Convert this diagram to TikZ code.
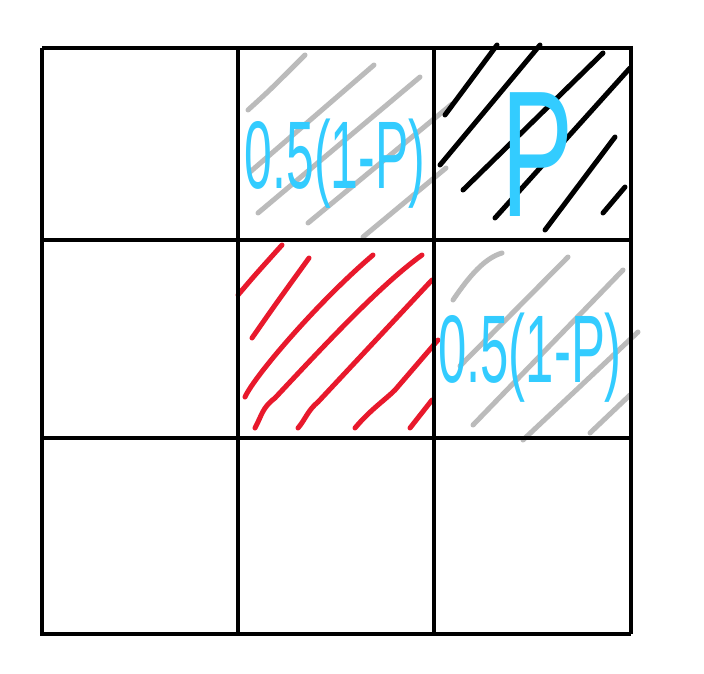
\documentclass[tikz,border=0pt]{standalone}
\usepackage{fontspec}
\setmainfont{Liberation Sans}
\definecolor{hgray}{HTML}{BBBBBB}
\definecolor{hred}{HTML}{E8192C}
\definecolor{hblue}{HTML}{33CCFF}
\begin{document}
\begin{tikzpicture}[x=1pt,y=-1pt,
  gridline/.style={line width=4.5pt,black},
  hatchgray/.style={line width=5pt,hgray,line cap=round},
  hatchblack/.style={line width=5pt,black,line cap=round},
  hatchred/.style={line width=5pt,hred,line cap=round},
  lbl/.style={text=hblue,inner sep=0pt,font=\fontsize{96}{96}\selectfont}]
\useasboundingbox[fill=white] (0,0) rectangle (704,674);
% hatching: top-middle cell (gray)
\draw[hatchgray] (248,110) .. controls (270,90) .. (305,55);
\draw[hatchgray] (250,172) -- (374,65);
\draw[hatchgray] (258,213) -- (420,77);
\draw[hatchgray] (308,223) -- (452,104);
\draw[hatchgray] (363,237) -- (446,168);
% hatching: top-right cell (black)
\draw[hatchblack] (445,115) -- (497,45);
\draw[hatchblack] (440,165) -- (540,45);
\draw[hatchblack] (463,190) -- (603,53);
\draw[hatchblack] (495,218) -- (630,68);
\draw[hatchblack] (545,230) -- (615,137);
\draw[hatchblack] (603,213) -- (625,187);
% hatching: centre cell (red)
\draw[hatchred] (238,295) .. controls (255,275) .. (282,245);
\draw[hatchred] (252,338) .. controls (275,305) .. (309,258);
\draw[hatchred] (245,397) .. controls (255,375) and (320,300) .. (373,255);
\draw[hatchred] (255,428) .. controls (262,415) and (262,408) .. (275,398) .. controls (320,350) and (380,285) .. (422,255);
\draw[hatchred] (298,428) .. controls (305,420) and (308,410) .. (318,402) -- (432,280);
\draw[hatchred] (355,428) .. controls (370,410) and (385,400) .. (395,390) -- (438,340);
\draw[hatchred] (410,428) -- (432,400);
% hatching: bottom-right cell (gray)
\draw[hatchgray] (453,300) .. controls (470,275) and (485,258) .. (502,253);
\draw[hatchgray] (460,366) -- (568,257);
\draw[hatchgray] (473,425) -- (623,270);
\draw[hatchgray] (523,440) -- (638,332);
\draw[hatchgray] (590,433) -- (630,395);
% grid
\draw[gridline] (42,48) -- (631,48);
\draw[gridline] (42,240) -- (631,240);
\draw[gridline] (42,438) -- (631,438);
\draw[gridline] (40,634) -- (631,634);
\draw[gridline] (42,48) -- (42,634);
\draw[gridline] (238,48) -- (238,634);
\draw[gridline] (434,48) -- (434,634);
\draw[gridline] (631,46) -- (631,634);
% labels
\node[lbl] (lab1) at (335,164) {\scalebox{0.52}[1]{0.5(1-P)}};
\node[lbl] (lab2) at (530,358) {\scalebox{0.53}[1]{0.5(1-P)}};
\node[lbl,font=\fontsize{180}{180}\selectfont] (labp) at (538,155) {\scalebox{0.6}[1]{P}};
\end{tikzpicture}
\end{document}
